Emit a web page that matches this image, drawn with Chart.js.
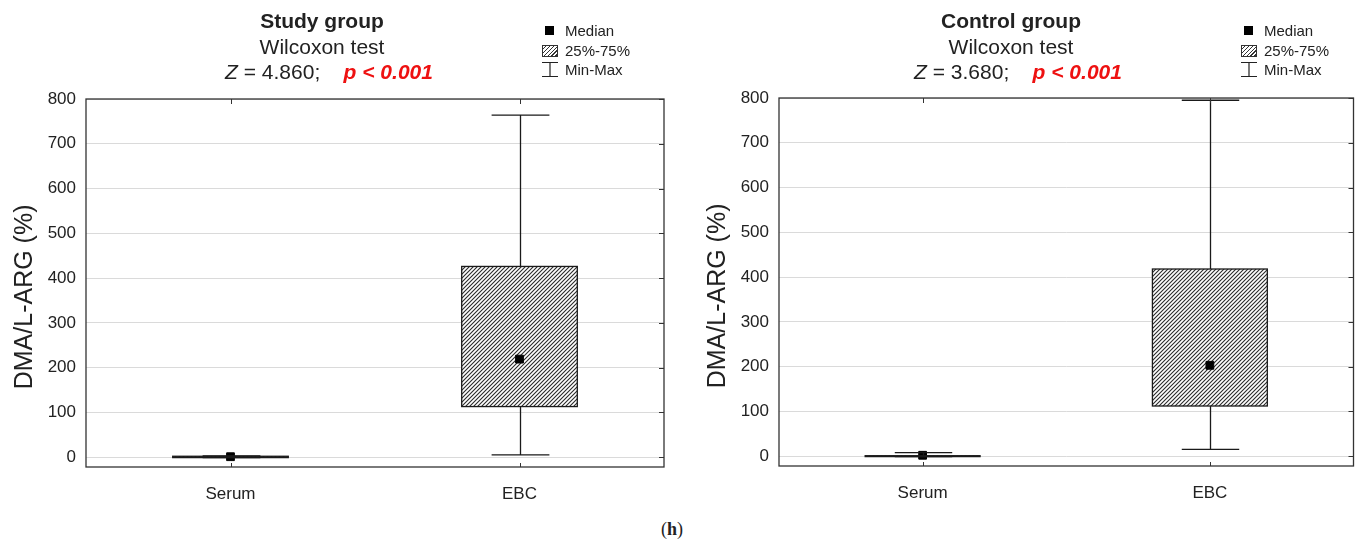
<!DOCTYPE html>
<html>
<head>
<meta charset="utf-8">
<script src="https://cdn.jsdelivr.net/npm/chart.js@4"></script>
<style>
  body { margin: 0; background: #fff; font-family: "Liberation Sans", Arial, sans-serif; color: #222; }
  #page { position: relative; width: 1360px; height: 543px; overflow: hidden; }
  .box { position: absolute; top: 0; height: 500px; }
  .head { position: absolute; top: 8px; font-size: 21px; line-height: 25.5px; text-align: center; white-space: nowrap; transform: translateX(-50%); }
  .head b { font-weight: bold; }
  .head .pv { color: #ee1111; font-weight: bold; font-style: italic; }
  .head .zl { padding-left: 14px; }
  .legend { position: absolute; top: 21px; font-size: 15px; line-height: 19.5px; }
  .legend div { position: relative; padding-left: 23px; white-space: nowrap; }
  .legend .g { position: absolute; left: 0; }
  .sq { top: 5px; left: 3px !important; width: 9px; height: 9px; background: #000; }
  .ht { top: 4px; width: 16px; height: 12px; border: 1px solid #333;
        background: repeating-linear-gradient(135deg, #fff 0 1.5px, #333 1.5px 2.8px); box-sizing: border-box; }
  .wk { top: 2px; }
  #cap { position: absolute; left: 672px; top: 519px; transform: translateX(-50%); font-family: "Liberation Serif", "Times New Roman", serif; font-size: 18px; }
</style>
</head>
<body>
<div id="page">
  <div class="box" style="left:0;width:680px"><canvas id="studyChart"></canvas></div>
  <div class="box" style="left:693px;width:667px"><canvas id="controlChart"></canvas></div>

  <div class="head" style="left:322px">
    <div><b id="t1"></b></div>
    <div>Wilcoxon test</div>
    <div class="zl"><i>Z</i> = <span id="z1"></span>;&nbsp;&nbsp;&nbsp;&nbsp;<span class="pv">p &lt; 0.001</span></div>
  </div>
  <div class="head" style="left:1011px">
    <div><b id="t2"></b></div>
    <div>Wilcoxon test</div>
    <div class="zl"><i>Z</i> = <span id="z2"></span>;&nbsp;&nbsp;&nbsp;&nbsp;<span class="pv">p &lt; 0.001</span></div>
  </div>

  <div class="legend" style="left:542px">
    <div><span class="g sq"></span>Median</div>
    <div><span class="g ht"></span>25%-75%</div>
    <div><svg class="g wk" width="16" height="15"><path d="M0 0.5H16M8 0.5V14.5M0 14.5H16" stroke="#222" stroke-width="1.2" fill="none"/></svg>Min-Max</div>
  </div>
  <div class="legend" style="left:1241px">
    <div><span class="g sq"></span>Median</div>
    <div><span class="g ht"></span>25%-75%</div>
    <div><svg class="g wk" width="16" height="15"><path d="M0 0.5H16M8 0.5V14.5M0 14.5H16" stroke="#222" stroke-width="1.2" fill="none"/></svg>Min-Max</div>
  </div>

  <div id="cap">(<b>h</b>)</div>
</div>

<script>
// === data ===
const categories = ['Serum', 'EBC'];

const studyTitle = 'Study group';
const studyZ = '4.860';
const studyMin = [-1, 5];
const studyQ1 = [-1, 113];
const studyMedian = [1, 219];
const studyQ3 = [2, 426];
const studyMax = [3, 764];

const controlTitle = 'Control group';
const controlZ = '3.680';
const controlMin = [-1, 15];
const controlQ1 = [-1, 112];
const controlMedian = [2, 203];
const controlQ3 = [1, 418];
const controlMax = [8, 795];

const yMin = -22;
const yMax = 800;
const yStep = 100;
const yTitle = 'DMA/L-ARG (%)';

document.getElementById('t1').textContent = studyTitle;
document.getElementById('z1').textContent = studyZ;
document.getElementById('t2').textContent = controlTitle;
document.getElementById('z2').textContent = controlZ;

const FONT = '"Liberation Sans", Arial, sans-serif';

// hatch fill for the 25-75% box
function makeHatch() {
    const c = document.createElement('canvas');
    c.width = 4; c.height = 4;
    const g = c.getContext('2d');
    g.fillStyle = '#fff';
    g.fillRect(0, 0, 4, 4);
    g.strokeStyle = '#2a2a2a';
    g.lineWidth = 1.1;
    g.beginPath();
    g.moveTo(-1, 5); g.lineTo(5, -1);
    g.moveTo(-3, 3); g.lineTo(3, -3);
    g.moveTo(1, 7); g.lineTo(7, 1);
    g.stroke();
    return g.createPattern(c, 'repeat');
}

// box outline, whiskers and frame, drawn with the chart's own scales
const boxPlotExtras = {
    id: 'boxPlotExtras',
    afterDatasetsDraw(chart, args, opts) {
        const ctx = chart.ctx;
        const x = chart.scales.x, y = chart.scales.y;
        const bars = chart.getDatasetMeta(0).data;
        ctx.save();
        ctx.strokeStyle = '#1a1a1a';
        ctx.lineWidth = 1.3;
        opts.mins.forEach((mn, i) => {
            const cx = Math.round(x.getPixelForValue(i)) + 0.5;
            const w = bars[i].width, half = w / 4;
            const yMn = y.getPixelForValue(mn), yMx = y.getPixelForValue(opts.maxs[i]);
            const yQ1 = y.getPixelForValue(opts.q1[i]), yQ3 = y.getPixelForValue(opts.q3[i]);
            // box outline (kept visible even when the box is only a pixel high)
            ctx.strokeRect(bars[i].x - w / 2, yQ3, w, yQ1 - yQ3);
            ctx.beginPath();
            if (yMx < yQ3) { ctx.moveTo(cx, yMx); ctx.lineTo(cx, yQ3); }
            if (yMn > yQ1) { ctx.moveTo(cx, yQ1); ctx.lineTo(cx, yMn); }
            ctx.moveTo(cx - half, yMx); ctx.lineTo(cx + half, yMx);
            ctx.moveTo(cx - half, yMn); ctx.lineTo(cx + half, yMn);
            ctx.stroke();
        });
        ctx.restore();
    },
    afterDraw(chart) {
        const ctx = chart.ctx;
        const a = chart.chartArea;
        const x = chart.scales.x, y = chart.scales.y;
        ctx.save();
        ctx.strokeStyle = '#333';
        ctx.lineWidth = 1.3;
        ctx.strokeRect(a.left, a.top, a.right - a.left, a.bottom - a.top);
        ctx.lineWidth = 1;
        ctx.beginPath();
        y.ticks.forEach(t => {
            const py = Math.round(y.getPixelForValue(t.value)) + 0.5;
            ctx.moveTo(a.right - 5, py); ctx.lineTo(a.right, py);
        });
        x.ticks.forEach((t, i) => {
            const px = Math.round(x.getPixelForValue(i)) + 0.5;
            ctx.moveTo(px, a.top); ctx.lineTo(px, a.top + 5);
            ctx.moveTo(px, a.bottom); ctx.lineTo(px, a.bottom - 4);
        });
        ctx.stroke();
        ctx.restore();
    }
};

function makeChart(id, q1, q3, median, mins, maxs, pad, xHeight) {
    const hatch = makeHatch();
    return new Chart(document.getElementById(id), {
        type: 'bar',
        data: {
            labels: categories,
            datasets: [
                {
                    label: '25%-75%',
                    data: q1.map((v, i) => [v, q3[i]]),
                    backgroundColor: hatch,
                    borderWidth: 0,
                    barPercentage: 0.4,
                    categoryPercentage: 1,
                    order: 2
                },
                {
                    label: 'Median',
                    type: 'line',
                    data: median,
                    showLine: false,
                    pointStyle: 'rect',
                    pointRadius: 5.5,
                    pointHoverRadius: 5.5,
                    backgroundColor: '#000',
                    borderColor: '#000',
                    borderWidth: 1,
                    order: 0
                }
            ]
        },
        options: {
            responsive: true,
            maintainAspectRatio: false,
            animation: false,
            events: [],
            layout: { padding: pad },
            plugins: {
                legend: { display: false },
                tooltip: { enabled: false },
                boxPlotExtras: { mins: mins, maxs: maxs, q1: q1, q3: q3 }
            },
            scales: {
                x: {
                    grid: { display: false },
                    border: { display: false },
                    ticks: { font: { family: FONT, size: 17 }, color: '#222', padding: 9 },
                    afterFit: s => { s.height = xHeight; }
                },
                y: {
                    min: yMin,
                    max: yMax,
                    grid: { color: '#dadada', lineWidth: 1, drawTicks: false },
                    border: { display: false },
                    ticks: { stepSize: yStep, includeBounds: false, font: { family: FONT, size: 17 }, color: '#222', padding: 10 },
                    // trailing spaces push the rotated title a little lower, as in the original
                    title: { display: true, text: yTitle + '    ', font: { family: FONT, size: 25 }, color: '#222', padding: { top: 10, bottom: 0 } },
                    afterFit: s => { s.width = 86; }
                }
            }
        },
        plugins: [boxPlotExtras]
    });
}

makeChart('studyChart', studyQ1, studyQ3, studyMedian, studyMin, studyMax,
    { top: 99, right: 16, bottom: 0, left: 0 }, 33);
makeChart('controlChart', controlQ1, controlQ3, controlMedian, controlMin, controlMax,
    { top: 98, right: 3, bottom: 0, left: 0 }, 34);
</script>
</body>
</html>
